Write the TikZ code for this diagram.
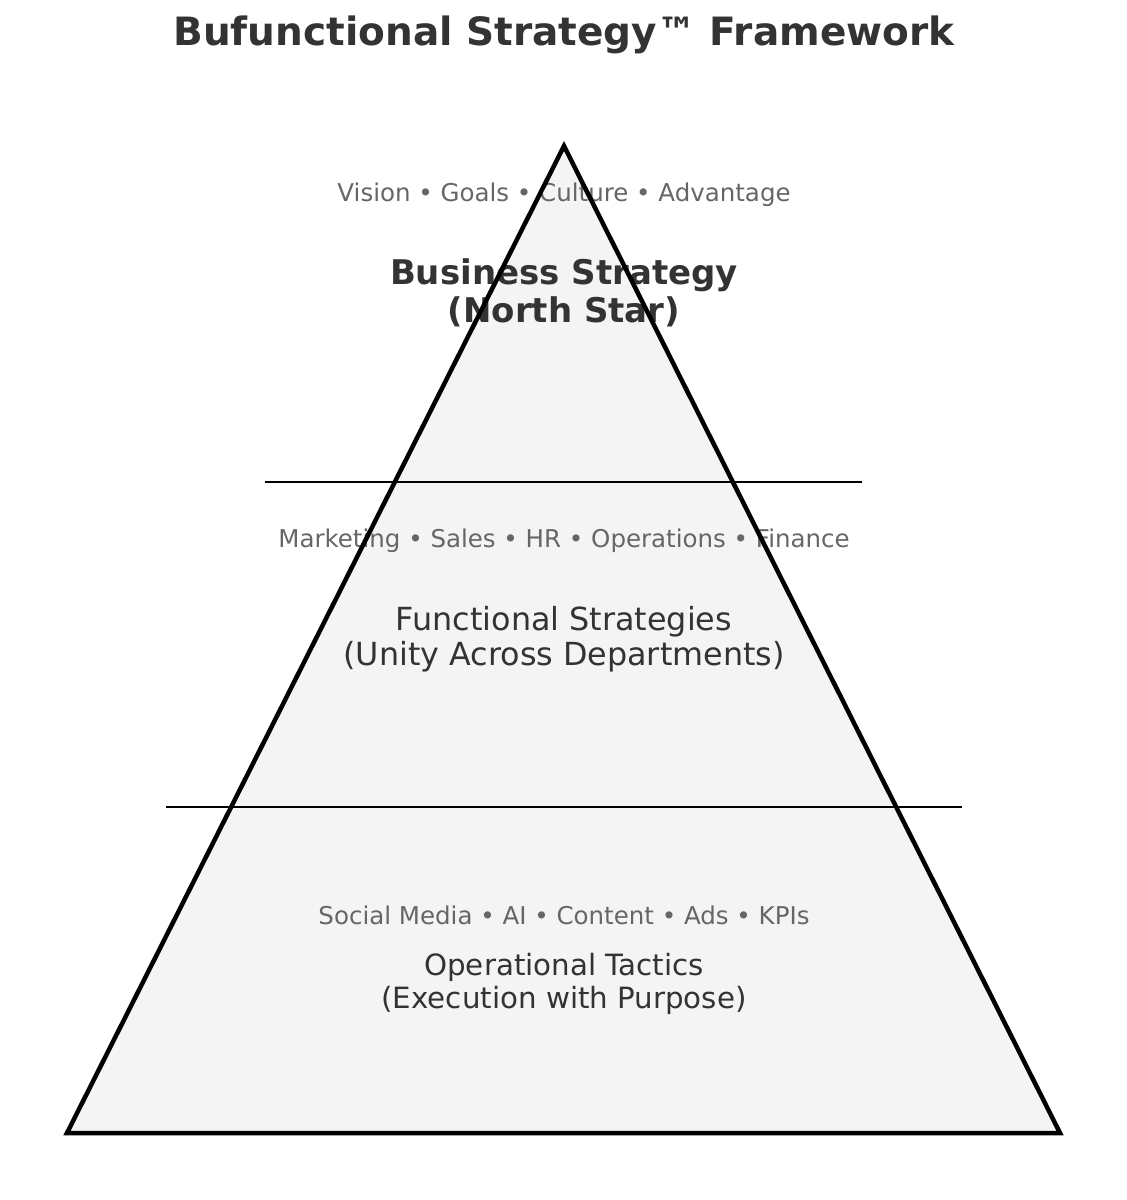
\documentclass[tikz,border=0pt]{standalone}
\usepackage{fontspec}
\setmainfont{DejaVu Sans}
\definecolor{darktext}{HTML}{333333}
\definecolor{graytext}{HTML}{666666}
\definecolor{tri}{HTML}{F4F4F4}
\begin{document}
\begin{tikzpicture}[x=1pt,y=-1pt,
  title/.style={font=\fontsize{39}{45}\selectfont\bfseries, text=darktext, inner sep=0},
  tags/.style={font=\fontsize{24.5}{28}\selectfont, text=graytext, inner sep=0},
  headb/.style={font=\fontsize{34}{38}\selectfont\bfseries, text=darktext, align=center, inner sep=0},
  headf/.style={font=\fontsize{31.8}{35}\selectfont, text=darktext, align=center, inner sep=0},
  heado/.style={font=\fontsize{29.3}{33}\selectfont, text=darktext, align=center, inner sep=0},
  edge/.style={line width=4.5pt, black, line join=miter},
  divider/.style={line width=2pt, black}]
\useasboundingbox (0,0) rectangle (1127,1200);
\coordinate (apex) at (564,146);
\coordinate (bl) at (67,1133);
\coordinate (br) at (1060,1133);
\fill[tri] (apex) -- (bl) -- (br) -- cycle;
\node[title] (t) at (564,35) {Bufunctional Strategy™ Framework};
\node[tags] (v) at (564,195) {Vision • Goals • Culture • Advantage};
\node[headb] (bs) at (564,293) {Business Strategy\\(North Star)};
\node[tags] (m) at (564,541) {Marketing • Sales • HR • Operations • Finance};
\node[headf] (fs) at (564,639) {Functional Strategies\\(Unity Across Departments)};
\node[tags] (s) at (564,915) {Social Media • AI • Content • Ads • KPIs};
\node[heado] (ot) at (564,984) {Operational Tactics\\(Execution with Purpose)};
\coordinate (d1l) at (265,482); \coordinate (d1r) at (862,482);
\coordinate (d2l) at (166,807); \coordinate (d2r) at (962,807);
\draw[divider] (d1l) -- (d1r);
\draw[divider] (d2l) -- (d2r);
\draw[edge] (apex) -- (bl) -- (br) -- cycle;
\end{tikzpicture}
\end{document}
